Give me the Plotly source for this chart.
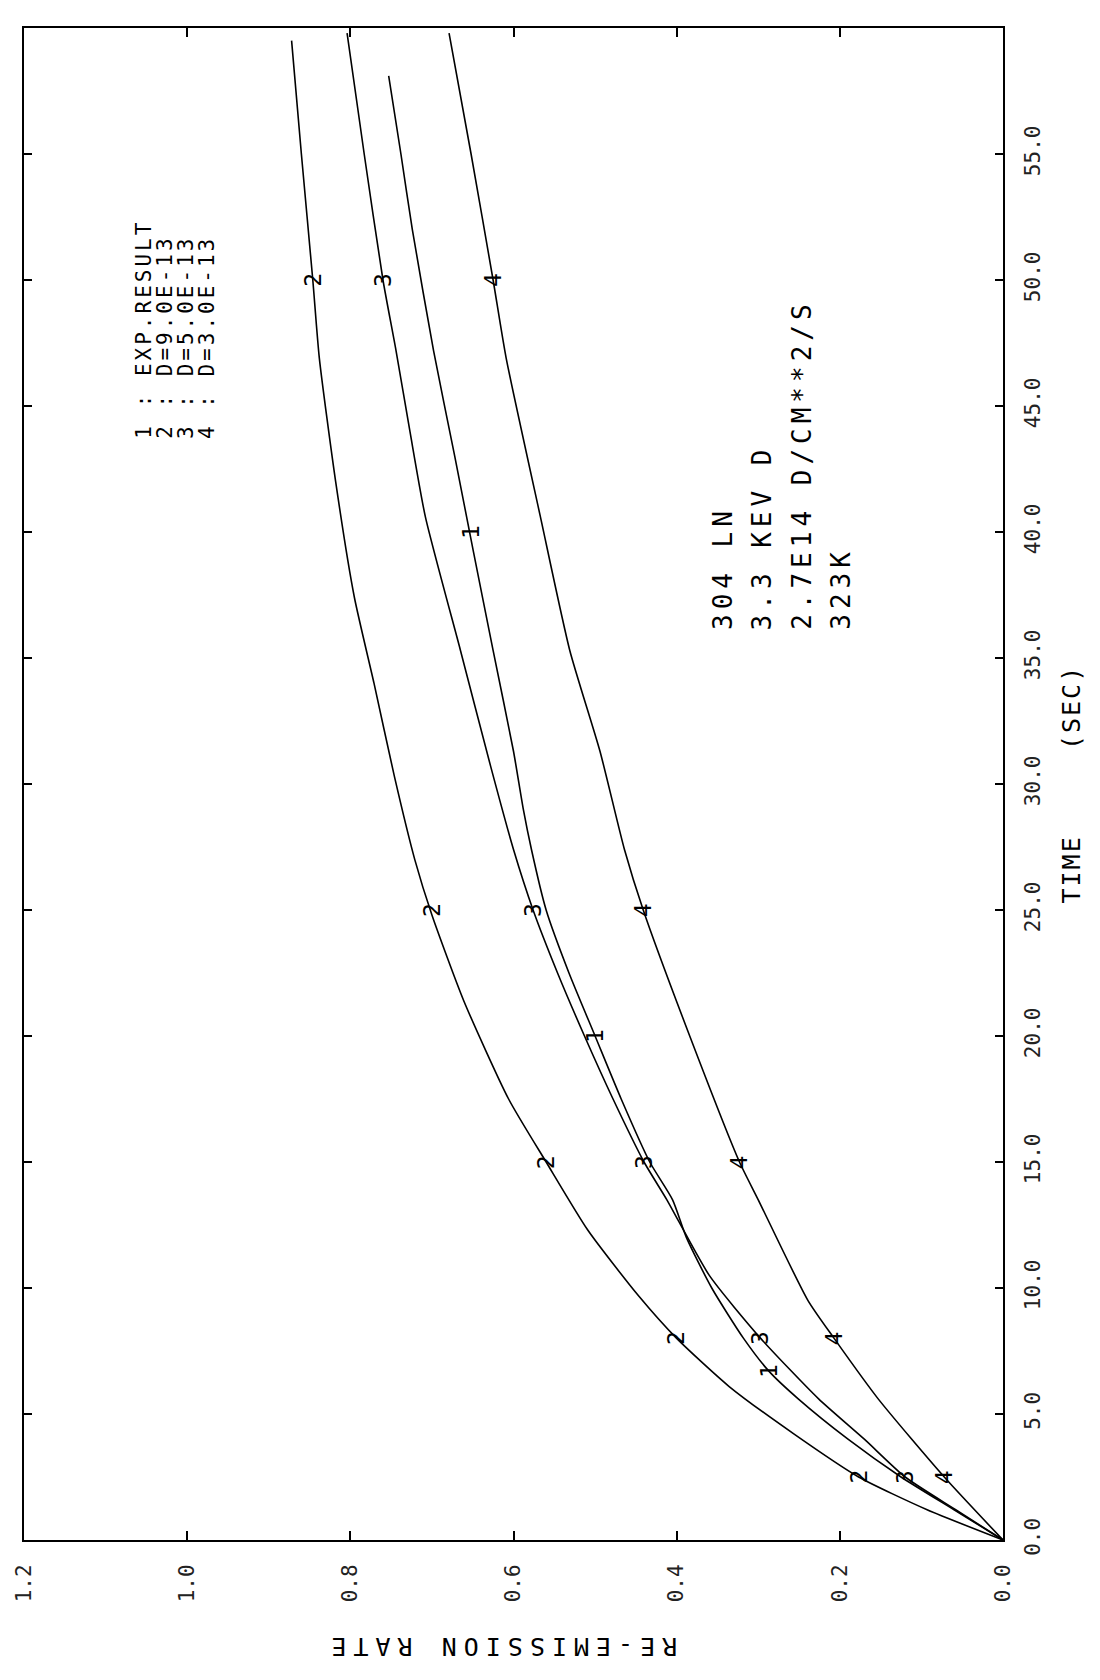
import plotly.graph_objects as go

# ---------------- data (time in s, re-emission rate) ----------------
time_exp = [0, 1.2, 2.5, 4, 5.6, 6.7, 8, 10, 12, 13.5, 15, 17.5, 20, 22.5, 25, 27.4, 29, 31.3, 35.3, 39.2, 43, 47.2, 52, 55, 58.1]
rate_exp = [0, 0.06, 0.125, 0.19, 0.251, 0.287, 0.318, 0.357, 0.388, 0.405, 0.433, 0.468, 0.50, 0.532, 0.56, 0.578, 0.588, 0.60, 0.625, 0.649, 0.672, 0.698, 0.724, 0.738, 0.753]

time_d9 = [0, 1.2, 2.5, 4.2, 6.1, 8, 9.7, 12.3, 15, 17.5, 21.4, 24.8, 27, 30.3, 34, 37.4, 42, 46.9, 50, 55, 59.5]
rate_d9 = [0, 0.093, 0.177, 0.256, 0.336, 0.40, 0.447, 0.509, 0.56, 0.606, 0.661, 0.70, 0.721, 0.746, 0.771, 0.795, 0.818, 0.838, 0.846, 0.86, 0.872]

time_d5 = [0, 1.2, 2.5, 4, 5.6, 8, 10.5, 13.5, 15, 17.5, 20, 22.5, 25, 27.4, 30.7, 35.3, 40.6, 44, 47.2, 50, 55, 59.8]
rate_d5 = [0, 0.058, 0.12, 0.17, 0.226, 0.297, 0.36, 0.412, 0.44, 0.478, 0.513, 0.546, 0.576, 0.60, 0.628, 0.665, 0.708, 0.727, 0.744, 0.76, 0.783, 0.804]

time_d3 = [0, 2.5, 5.6, 8, 9.5, 13.5, 15, 20, 25, 27.4, 31.3, 35.3, 40.6, 46.9, 50, 55, 59.8]
rate_d3 = [0, 0.072, 0.153, 0.207, 0.239, 0.30, 0.323, 0.384, 0.441, 0.464, 0.494, 0.531, 0.567, 0.609, 0.625, 0.652, 0.679]

# curve label positions
lab_t_exp = [6.7, 20, 40]
lab_r_exp = [0.287, 0.50, 0.652]
lab_t_d9 = [2.5, 8, 15, 25, 50]
lab_r_d9 = [0.177, 0.40, 0.56, 0.70, 0.846]
lab_t_d5 = [2.5, 8, 15, 25, 50]
lab_r_d5 = [0.12, 0.297, 0.44, 0.576, 0.76]
lab_t_d3 = [2.5, 8, 15, 25, 50]
lab_r_d3 = [0.072, 0.207, 0.323, 0.441, 0.625]

rate_ticks = [0.0, 0.2, 0.4, 0.6, 0.8, 1.0, 1.2]
rate_ticktext = ["0.0", "0.2", "0.4", "0.6", "0.8", "1.0", "1.2"]
time_ticks = [0, 5, 10, 15, 20, 25, 30, 35, 40, 45, 50, 55, 60]
time_ticktext = ["0.0", "5.0", "10.0", "15.0", "20.0", "25.0", "30.0", "35.0", "40.0", "45.0", "50.0", "55.0", "60.0"]

legend_lines = ["1 : EXP.RESULT", "2 : D=9.0E-13", "3 : D=5.0E-13", "4 : D=3.0E-13"]
cond_lines = ["304 LN", "3.3 KEV D", "2.7E14 D/CM**2/S", "323K"]

MONO = "DejaVu Sans Mono"
W, H = 1100, 1680
ML, MR, MT, MB = 17, 97, 28, 140
PW, PH = W - ML - MR, H - MT - MB


def px(x):
    return (x - ML) / PW


def py(y):
    return (H - MB - y) / PH


def spaced(s, ls):
    return '<span style="letter-spacing:%gpx">%s</span>' % (ls, s)


fig = go.Figure()
series = [
    (time_exp, rate_exp, lab_t_exp, lab_r_exp, "1"),
    (time_d9, rate_d9, lab_t_d9, lab_r_d9, "2"),
    (time_d5, rate_d5, lab_t_d5, lab_r_d5, "3"),
    (time_d3, rate_d3, lab_t_d3, lab_r_d3, "4"),
]
annotations = []
for t, r, lt, lr, name in series:
    fig.add_trace(go.Scatter(x=r, y=t, mode="lines", line=dict(color="black", width=1.6, shape="spline", smoothing=0.6),
                             showlegend=False, hoverinfo="skip"))
    for tt, rr in zip(lt, lr):
        annotations.append(dict(x=rr, y=tt, xref="x", yref="y", text=name, showarrow=False, textangle=-90,
                                font=dict(family=MONO, size=23, color="black"), xanchor="center", yanchor="middle"))

# legend block
for i, s in enumerate(legend_lines):
    annotations.append(dict(x=px(137 + 21.3 * i), y=py(441), xref="paper", yref="paper", text=spaced(s, 3),
                            showarrow=False, textangle=-90, font=dict(family=MONO, size=21, color="black"),
                            xanchor="center", yanchor="bottom"))
# condition block
for i, s in enumerate(cond_lines):
    annotations.append(dict(x=px(721 + 39.7 * i), y=py(632), xref="paper", yref="paper", text=spaced(s, 5),
                            showarrow=False, textangle=-90, font=dict(family=MONO, size=26, color="black"),
                            xanchor="center", yanchor="bottom"))
# axis titles
annotations.append(dict(x=px(1071), y=0.5, xref="paper", yref="paper",
                        text=spaced("TIME\u00a0\u00a0\u00a0\u00a0\u00a0(SEC)", 2), showarrow=False, textangle=-90,
                        font=dict(family=MONO, size=25, color="black"), xanchor="center", yanchor="middle"))
annotations.append(dict(x=px(497), y=py(1646), xref="paper", yref="paper",
                        text=spaced("RE-EMISSION RATE", 7), showarrow=False, textangle=180,
                        font=dict(family=MONO, size=25, color="black"), xanchor="center", yanchor="middle"))

fig.update_layout(
    width=W, height=H,
    margin=dict(l=ML, r=MR, t=MT, b=MB, pad=0),
    paper_bgcolor="white", plot_bgcolor="white",
    annotations=annotations,
    xaxis=dict(range=[1.2, 0], tickvals=rate_ticks, ticktext=rate_ticktext, tickangle=-90,
               ticks="inside", ticklen=9, tickwidth=1.5, tickcolor="black",
               showline=True, linewidth=2, linecolor="black", mirror="ticks",
               showgrid=False, zeroline=False, ticklabelstandoff=14,
               tickfont=dict(family=MONO, size=21, color="#222")),
    yaxis=dict(range=[0, 60], side="right", tickvals=time_ticks, ticktext=time_ticktext, tickangle=-90,
               ticks="inside", ticklen=8, tickwidth=1.5, tickcolor="black",
               showline=True, linewidth=2, linecolor="black", mirror="ticks",
               showgrid=False, zeroline=False, ticklabelstandoff=10,
               tickfont=dict(family=MONO, size=21, color="#222")),
)

fig.write_html("out.html")
